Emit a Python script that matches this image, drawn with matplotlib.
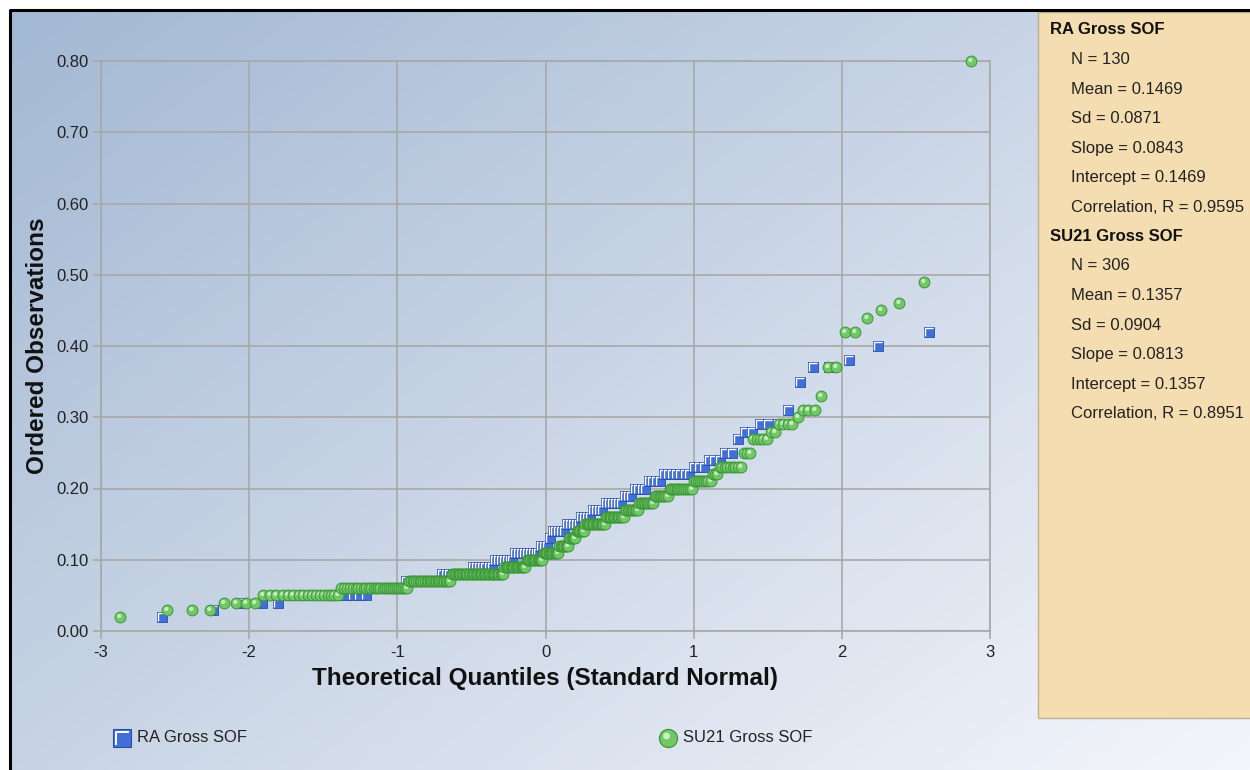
from statistics import NormalDist

import matplotlib

matplotlib.use("Agg")
import matplotlib.pyplot as plt
import numpy as np
from matplotlib.patches import Rectangle
from matplotlib.path import Path

plt.rcParams["font.family"] = ["Liberation Sans", "DejaVu Sans"]

ra_levels = [0.02, 0.03, 0.04, 0.05, 0.06, 0.07, 0.08, 0.09, 0.10, 0.11, 0.12,
             0.13, 0.14, 0.15, 0.16, 0.17, 0.18, 0.19, 0.20, 0.21, 0.22, 0.23,
             0.24, 0.25, 0.27, 0.28, 0.29, 0.31, 0.35, 0.37, 0.38, 0.40, 0.42]
ra_counts = [1, 1, 3, 10, 7, 9, 9, 7, 7, 9, 3,
             1, 5, 5, 4, 4, 6, 3, 4, 4, 7, 3,
             3, 2, 1, 2, 3, 1, 1, 2, 1, 1, 1]

su_levels = [0.02, 0.03, 0.04, 0.05, 0.06, 0.07, 0.08, 0.09, 0.10, 0.11, 0.12,
             0.13, 0.14, 0.15, 0.16, 0.17, 0.18, 0.19, 0.20, 0.21, 0.22, 0.23,
             0.25, 0.27, 0.28, 0.29, 0.30, 0.31, 0.33, 0.37, 0.42, 0.44, 0.45,
             0.46, 0.49, 0.80]
su_counts = [1, 3, 4, 17, 29, 26, 39, 18, 14, 13, 8,
             6, 7, 16, 14, 10, 10, 9, 13, 9, 3, 9,
             3, 5, 2, 4, 1, 3, 1, 2, 2, 1, 1,
             1, 1, 1]

ra_name = "RA Gross SOF"
su_name = "SU21 Gross SOF"
ra_stats = ["N = 130", "Mean = 0.1469", "Sd = 0.0871", "Slope = 0.0843",
            "Intercept = 0.1469", "Correlation, R = 0.9595"]
su_stats = ["N = 306", "Mean = 0.1357", "Sd = 0.0904", "Slope = 0.0813",
            "Intercept = 0.1357", "Correlation, R = 0.8951"]

x_ticks = [-3, -2, -1, 0, 1, 2, 3]
y_ticks = [0.0, 0.1, 0.2, 0.3, 0.4, 0.5, 0.6, 0.7, 0.8]

BLUE = "#416fd8"
BLUE_EDGE = "#2a4fae"
GREEN = "#72c868"
GREEN_EDGE = "#3b9638"
GRID = "#a8a8a8"


def qq_points(levels, counts):
    obs = np.repeat(levels, counts)
    n = len(obs)
    nd = NormalDist()
    # Blom plotting positions
    theo = np.array([nd.inv_cdf((r - 0.375) / (n + 0.25)) for r in range(1, n + 1)])
    return theo, obs


# white bevel along the top-left of the squares (first MOVETO only fixes the scale)
bevel = Path([(1, -1), (-0.72, -0.8), (-0.72, 0.72), (0.8, 0.72)],
             [Path.MOVETO, Path.MOVETO, Path.LINETO, Path.LINETO])
# shine spot on the spheres
shine = Path.make_compound_path(
    Path([(1, -1), (-1, 1)], [Path.MOVETO, Path.MOVETO]),
    Path.circle(center=(-0.22, 0.28), radius=0.38),
)

fig = plt.figure(figsize=(12.5, 7.7), dpi=100, facecolor="white")

# background: gradient, info panel, frame
bg = fig.add_axes([0, 0, 1, 1], zorder=-1)
bg.set_xlim(0, 1250)
bg.set_ylim(770, 0)
bg.axis("off")
gx = np.linspace(0, 1, 400)
gy = np.linspace(0, 1, 250)
t = 0.55 * gx[None, :] + 0.45 * gy[:, None]
c0 = np.array([163, 184, 211]) / 255
c1 = np.array([244, 246, 251]) / 255
grad = c0[None, None, :] * (1 - t[..., None]) + c1[None, None, :] * t[..., None]
bg.imshow(grad, extent=[10, 1250, 770, 10], aspect="auto", interpolation="bilinear")
bg.add_patch(Rectangle((1038, 12), 214, 706, facecolor="#f5ddb2",
                       edgecolor="#bfae90", lw=1))
bg.plot([10, 10, 1250], [770, 10, 10], color="black", lw=2.2, solid_capstyle="butt")

# stats panel
y = 30
for name, stats in [(ra_name, ra_stats), (su_name, su_stats)]:
    bg.text(1050, y, name, fontsize=12, fontweight="bold", va="center", color="#111")
    y += 29.5
    for s in stats:
        bg.text(1071, y, s, fontsize=12, va="center", color="#222")
        y += 29.5

# legend along the bottom
bg.plot(122, 738, marker="s", ms=13, mfc=BLUE, mec=BLUE_EDGE, mew=0.8, ls="none")
bg.plot(122, 738, marker=bevel, ms=13, mfc="none", mec="white", mew=1.4, ls="none")
bg.text(137, 738, ra_name, fontsize=12, va="center", color="#222")
bg.plot(668, 738, marker="o", ms=13, mfc=GREEN, mec=GREEN_EDGE, mew=0.9, ls="none")
bg.plot(668, 738, marker=shine, ms=13, mfc="#c9efc0", mec="none", ls="none")
bg.text(683, 738, su_name, fontsize=12, va="center", color="#222")

# main q-q plot
ax = fig.add_axes([101 / 1250, 139 / 770, 889 / 1250, 570 / 770])
ax.set_facecolor("none")
ax.set_xlim(-3, 3)
ax.set_ylim(0, 0.8)
ax.set_xticks(x_ticks)
ax.set_xticklabels([str(v) for v in x_ticks])
ax.set_yticks(y_ticks)
ax.set_yticklabels([f"{v:.2f}" for v in y_ticks])
ax.grid(True, color=GRID, lw=1.2)
ax.set_axisbelow(True)
for sp in ax.spines.values():
    sp.set_color(GRID)
    sp.set_linewidth(1.2)
ax.tick_params(axis="both", length=6, width=1.2, color=GRID, labelsize=12,
               labelcolor="#222")
ax.tick_params(axis="x", pad=4)
ax.tick_params(axis="y", pad=3)

ra_x, ra_y = qq_points(ra_levels, ra_counts)
su_x, su_y = qq_points(su_levels, su_counts)

for xv, yv in zip(ra_x, ra_y):
    ax.plot(xv, yv, marker="s", ms=7.6, mfc=BLUE, mec=BLUE_EDGE, mew=0.6,
            ls="none", zorder=3, clip_on=False)
    ax.plot(xv, yv, marker=bevel, ms=7.6, mfc="none", mec="white", mew=1.0,
            ls="none", zorder=3, clip_on=False)

for xv, yv in zip(su_x, su_y):
    ax.plot(xv, yv, marker="o", ms=7.8, mfc=GREEN, mec=GREEN_EDGE, mew=0.7,
            ls="none", zorder=3, clip_on=False)
    ax.plot(xv, yv, marker=shine, ms=7.8, mfc="#c6eebd", mec="none",
            ls="none", zorder=3, clip_on=False)

ax.set_xlabel("Theoretical Quantiles (Standard Normal)", fontsize=17.5,
              fontweight="bold", color="#111")
ax.set_ylabel("Ordered Observations", fontsize=17.5, fontweight="bold", color="#111")
ax.xaxis.set_label_coords(0.5, -0.063)
ax.yaxis.set_label_coords(-0.059, 0.5)

fig.savefig("out.png", dpi=100, facecolor="white")
